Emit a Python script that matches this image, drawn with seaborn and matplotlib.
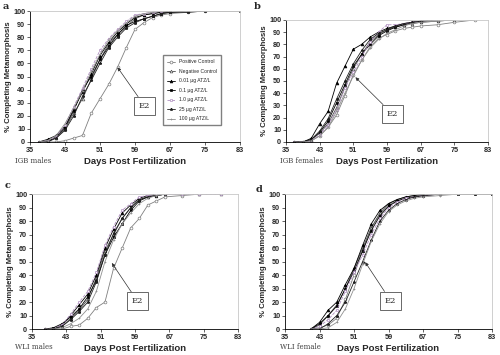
"""Time to metamorphosis, four panels (IGB / WLI, males / females)."""
import matplotlib
matplotlib.use("Agg")
import matplotlib.pyplot as plt
import numpy as np
import pandas as pd
import seaborn as sns

nan = np.nan

# ----- data ------------------------------------------------------------------
TREATMENTS = ["Positive Control", "Negative Control", "0.01 \u00b5g ATZ/L",
              "0.1 \u00b5g ATZ/L", "1.0 \u00b5g ATZ/L", "25 \u00b5g ATZ/L",
              "100 \u00b5g ATZ/L"]
PANEL_NAMES = ["IGB males", "IGB females", "WLI males", "WLI female"]
PANEL_LETTERS = ["a", "b", "c", "d"]
X_TICKS = [35, 43, 51, 59, 67, 75, 83]
Y_TICKS = list(range(0, 101, 10))

days_a = [37, 39, 41, 43, 45, 47, 49, 51, 53, 55, 57, 59, 61, 63, 65, 67, 71, 75, 83]
pc_a = [0, 0, 0, 1, 3, 5, 22, 33, 44, 57, 72, 86, 91, 95, 97, 98, 99, 100, nan]
nc_a = [0, 1, 3, 10, 22, 33, 48, 63, 75, 82, 88, 94, 97, 98, 99, 99, 100, nan, nan]
t001_a = [0, 2, 5, 12, 25, 38, 52, 66, 76, 84, 90, 95, 97, 98, 99, 100, nan, nan, nan]
t01_a = [0, 0, 4, 11, 24, 40, 50, 63, 73, 82, 89, 92, 94, 96, 98, 99, 100, nan, nan]
t1_a = [0, 1, 4, 13, 27, 41, 56, 70, 79, 86, 92, 97, 98, 99, 100, nan, nan, nan, nan]
t25_a = [0, 0, 3, 9, 20, 35, 47, 60, 72, 80, 87, 91, 94, 96, 98, 99, 99, 100, 100]
t100_a = [0, 1, 5, 14, 26, 39, 54, 67, 78, 85, 91, 96, 98, 99, 100, nan, nan, nan, nan]

days_b = [37, 39, 41, 43, 45, 47, 49, 51, 53, 55, 57, 59, 61, 63, 65, 67, 71, 75, 80]
pc_b = [0, 0, 1, 5, 12, 22, 38, 55, 67, 78, 85, 88, 91, 93, 94, 95, 96, 98, 100]
nc_b = [0, 0, 2, 7, 15, 28, 45, 60, 72, 82, 88, 92, 94, 96, 97, 98, 99, 100, nan]
t001_b = [0, 0, 3, 15, 25, 48, 62, 76, 80, 86, 90, 93, 95, 97, 98, 99, 100, nan, nan]
t01_b = [0, 0, 2, 8, 17, 32, 47, 62, 72, 80, 87, 91, 94, 96, 98, 99, 100, nan, nan]
t1_b = [0, 0, 1, 6, 14, 26, 44, 57, 70, 82, 90, 96, 96, 97, 98, 99, 100, nan, nan]
t25_b = [0, 0, 2, 9, 19, 35, 50, 64, 75, 84, 89, 92, 95, 97, 98, 99, 100, nan, nan]
t100_b = [0, 0, 1, 5, 12, 25, 40, 54, 67, 77, 84, 89, 92, 95, 97, 98, 99, 100, nan]

days_c = [38, 40, 42, 44, 46, 48, 50, 52, 54, 56, 58, 60, 62, 64, 66, 70, 74, 79]
pc_c = [0, 0, 0, 2, 3, 8, 16, 20, 45, 60, 75, 82, 92, 95, 98, 99, 100, nan]
nc_c = [0, 0, 2, 8, 14, 22, 38, 58, 70, 82, 90, 96, 98, 99, 100, 100, 100, 100]
t001_c = [0, 0, 3, 10, 18, 26, 40, 60, 74, 86, 92, 97, 99, 100, nan, nan, nan, nan]
t01_c = [0, 1, 4, 9, 15, 24, 36, 55, 68, 78, 88, 95, 98, 99, 100, nan, nan, nan]
t1_c = [0, 0, 3, 11, 20, 28, 42, 62, 76, 88, 93, 98, 99, 100, 100, 100, 100, 100]
t25_c = [0, 0, 2, 7, 13, 20, 35, 55, 71, 82, 90, 96, 98, 99, 100, nan, nan, nan]
t100_c = [0, 0, 1, 4, 8, 15, 28, 50, 66, 78, 86, 93, 97, 99, 100, nan, nan, nan]

days_d = [41, 43, 45, 47, 49, 51, 53, 55, 57, 59, 61, 63, 65, 67, 71, 75, 79, 83]
pc_d = [0, 1, 3, 8, 22, 40, 58, 75, 85, 92, 95, 97, 98, 99, 100, nan, nan, nan]
nc_d = [0, 3, 10, 18, 30, 45, 60, 75, 86, 93, 96, 98, 99, 100, 100, nan, nan, nan]
t001_d = [0, 5, 14, 20, 33, 45, 62, 78, 88, 93, 96, 98, 99, 100, nan, nan, nan, nan]
t01_d = [0, 4, 10, 17, 30, 43, 58, 73, 84, 91, 95, 97, 98, 99, 100, 100, 100, 100]
t1_d = [0, 2, 7, 14, 28, 42, 55, 70, 82, 90, 94, 97, 98, 99, 100, nan, nan, nan]
t25_d = [0, 0, 4, 10, 20, 35, 50, 66, 80, 88, 93, 96, 98, 99, 100, nan, nan, nan]
t100_d = [0, 0, 1, 5, 15, 30, 48, 65, 78, 87, 92, 95, 97, 98, 99, 100, nan, nan]

PANELS = [
    (days_a, [pc_a, nc_a, t001_a, t01_a, t1_a, t25_a, t100_a]),
    (days_b, [pc_b, nc_b, t001_b, t01_b, t1_b, t25_b, t100_b]),
    (days_c, [pc_c, nc_c, t001_c, t01_c, t1_c, t25_c, t100_c]),
    (days_d, [pc_d, nc_d, t001_d, t01_d, t1_d, t25_d, t100_d]),
]
# E2 annotation: (box centre), (arrow tip) in data units
E2_BOX = [(61.2, 27.5), (60.3, 23.0), (59.6, 20.6), (59.5, 21.0)]
E2_TIP = [(55.0, 57.0), (51.5, 53.0), (53.6, 49.0), (53.6, 49.6)]

# ----- style -----------------------------------------------------------------
COLORS = ["#808080", "#505050", "#000000", "#000000", "#b090c0", "#202020", "#909090"]
MARKERS = ["o", "^", "^", "s", "s", "*", "+"]
FILLED = [False, False, True, True, False, True, True]
LSTYLE = ["-", "-", "-", "-", "--", "-", "-"]

# axes rectangles in figure fractions (left, bottom, width, height)
RECTS = [(0.060, 0.600, 0.420, 0.369),
         (0.572, 0.600, 0.404, 0.344),
         (0.064, 0.073, 0.412, 0.380),
         (0.570, 0.073, 0.414, 0.380)]
LETTER_XY = [(0.006, 0.995), (0.508, 0.995), (0.010, 0.490), (0.512, 0.478)]
NAME_XY = [(0.030, 0.535), (0.560, 0.535), (0.030, 0.010), (0.560, 0.010)]

sns.set_theme(style="white")
plt.rcParams.update({"font.family": ["Liberation Sans", "DejaVu Sans"],
                     "axes.linewidth": 0.6})

fig = plt.figure(figsize=(5.0, 3.55), dpi=100)

for i, (days, series) in enumerate(PANELS):
    rows = []
    for name, vals in zip(TREATMENTS, series):
        for d, v in zip(days, vals):
            if not np.isnan(v):
                rows.append({"day": d, "pct": v, "treatment": name})
    df = pd.DataFrame(rows)

    ax = fig.add_axes(RECTS[i])
    for j, name in enumerate(TREATMENTS):
        sub = df[df.treatment == name]
        sns.lineplot(data=sub, x="day", y="pct", ax=ax, color=COLORS[j],
                     linestyle=LSTYLE[j], lw=0.6, marker=MARKERS[j], ms=2.0,
                     markerfacecolor=COLORS[j] if FILLED[j] else "white",
                     markeredgecolor=COLORS[j], markeredgewidth=0.5,
                     label=name, legend=False)

    ax.set_xlim(35, 83)
    ax.set_ylim(0, 100)
    ax.set_xticks(X_TICKS)
    ax.set_yticks(Y_TICKS)
    ax.tick_params(axis="both", labelsize=5.2, length=2, width=0.5, pad=1.5,
                   direction="out", left=True, bottom=True)
    for lab in ax.get_xticklabels() + ax.get_yticklabels():
        lab.set_fontweight("bold")
    for side in ["top", "right"]:
        ax.spines[side].set_color("#c8c8c8")
        ax.spines[side].set_linewidth(0.6)
    for side in ["left", "bottom"]:
        ax.spines[side].set_color("black")
    ax.set_xlabel("Days Post Fertilization", fontsize=6.8, fontweight="bold",
                  labelpad=2)
    ax.set_ylabel("% Completing Metamorphosis", fontsize=5.6, fontweight="bold",
                  labelpad=1)

    ax.annotate("E2", xy=E2_TIP[i], xytext=E2_BOX[i], fontsize=6,
                family="DejaVu Serif", ha="center", va="center",
                bbox=dict(boxstyle="square,pad=0.6", fc="white", ec="#505050",
                          lw=0.6),
                arrowprops=dict(arrowstyle="-|>", color="#303030", lw=0.5,
                                mutation_scale=5, shrinkA=0, shrinkB=0))

    if i == 0:
        ax.legend(handles=ax.get_lines()[:len(TREATMENTS)], labels=TREATMENTS,
                  loc="upper left", bbox_to_anchor=(0.62, 0.68), fontsize=3.6,
                  frameon=True, fancybox=False, edgecolor="#808080",
                  handlelength=1.6, borderpad=0.8, labelspacing=0.9,
                  framealpha=1)

    fig.text(*LETTER_XY[i], PANEL_LETTERS[i], fontsize=7, fontweight="bold",
             family="DejaVu Serif", ha="left", va="top")
    fig.text(*NAME_XY[i], PANEL_NAMES[i], fontsize=5, family="DejaVu Serif",
             color="#404040", ha="left", va="bottom")

fig.savefig("out.png", dpi=100)
